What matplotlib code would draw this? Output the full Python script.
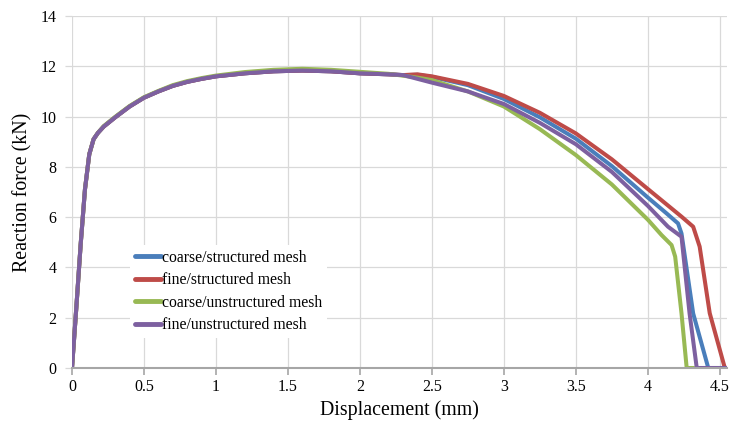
import matplotlib
matplotlib.use("Agg")
import matplotlib.pyplot as plt
import numpy as np

plt.rcParams['font.family'] = ['Liberation Serif', 'DejaVu Serif']

# Common loading branch (all meshes nearly identical)
x_common = [0, 0.03, 0.06, 0.09, 0.12, 0.15, 0.18, 0.22, 0.3, 0.4, 0.5, 0.6, 0.7, 0.8, 0.9, 1.0,
            1.2, 1.4, 1.6, 1.8, 2.0, 2.2, 2.3]
y_common = [0, 2.4, 4.9, 7.1, 8.5, 9.1, 9.35, 9.6, 9.97, 10.4, 10.75, 11.0, 11.22, 11.38, 11.5, 11.6,
            11.72, 11.8, 11.83, 11.8, 11.72, 11.68, 11.65]

# coarse/structured mesh
x_cs = x_common + [2.4, 2.5, 2.75, 3.0, 3.25, 3.5, 3.75, 4.0, 4.13, 4.21, 4.234, 4.315, 4.42, 4.55]
y_cs = y_common + [11.66, 11.58, 11.25, 10.7, 9.97, 9.12, 8.03, 6.78, 6.15, 5.75, 5.35, 2.17, 0.0, 0.0]

# fine/structured mesh
x_fs = x_common + [2.4, 2.5, 2.75, 3.0, 3.25, 3.5, 3.75, 4.0, 4.234, 4.315, 4.36, 4.43, 4.535, 4.55]
y_fs = y_common + [11.68, 11.6, 11.3, 10.82, 10.15, 9.33, 8.3, 7.12, 6.02, 5.62, 4.83, 2.18, 0.0, 0.0]

# coarse/unstructured mesh
x_cu = [0, 0.03, 0.06, 0.09, 0.12, 0.15, 0.18, 0.22, 0.3, 0.4, 0.5, 0.6, 0.7, 0.8, 0.9, 1.0,
        1.2, 1.4, 1.6, 1.8, 2.0, 2.2, 2.4, 2.5, 2.75, 3.0, 3.25, 3.5, 3.75, 4.0,
        4.095, 4.165, 4.19, 4.234, 4.27, 4.32]
y_cu = [0, 2.4, 4.9, 7.1, 8.5, 9.1, 9.35, 9.62, 9.99, 10.42, 10.77, 11.02, 11.25, 11.41, 11.53, 11.63,
        11.77, 11.86, 11.9, 11.86, 11.78, 11.7, 11.55, 11.45, 11.0, 10.4, 9.5, 8.47, 7.3, 5.9,
        5.29, 4.89, 4.43, 2.17, 0.0, 0.0]

# fine/unstructured mesh
x_fu = x_common + [2.4, 2.5, 2.75, 3.0, 3.25, 3.5, 3.75, 4.0, 4.14, 4.234, 4.29, 4.34, 4.55]
y_fu = y_common + [11.5, 11.35, 11.0, 10.5, 9.75, 8.9, 7.8, 6.45, 5.62, 5.22, 2.17, 0.0, 0.0]

labels = ["coarse/structured mesh", "fine/structured mesh",
          "coarse/unstructured mesh", "fine/unstructured mesh"]
colors = ["#4A7EBB", "#BE4B48", "#98B954", "#7D60A0"]
series = [(x_cs, y_cs), (x_fs, y_fs), (x_cu, y_cu), (x_fu, y_fu)]

fig = plt.figure(figsize=(7.29, 4.25), dpi=100)
ax = fig.add_axes([72/729, 1-368/425, (727-72)/729, (368-16)/425])

for (xs, ys), c, lab in zip(series, colors, labels):
    ax.plot(xs, ys, color=c, lw=2.9, label=lab, solid_capstyle='round', solid_joinstyle='round')

ax.set_xlim(0, 4.55)
ax.set_ylim(0, 14)
ax.set_xticks(np.arange(0, 4.51, 0.5))
ax.set_xticklabels(["0", "0.5", "1", "1.5", "2", "2.5", "3", "3.5", "4", "4.5"])
ax.set_yticks(np.arange(0, 14.1, 2))
ax.grid(True, color="#D9D9D9", lw=0.9)
ax.set_axisbelow(True)
for s in ["top", "right", "left"]:
    ax.spines[s].set_visible(False)
ax.spines["bottom"].set_color("#A6A6A6")
ax.spines["bottom"].set_linewidth(1.5)
ax.tick_params(axis="x", colors="#A6A6A6", length=5, width=1.2, labelcolor="black", labelsize=11.5, pad=3)
ax.tick_params(axis="y", colors="#D9D9D9", length=5, width=0.9, labelcolor="black", labelsize=11.5, pad=6)

ax.set_xlabel("Displacement (mm)", fontsize=14.3, labelpad=4)
ax.set_ylabel("Reaction force (kN)", fontsize=14.3, labelpad=6)

leg = ax.legend(loc="upper left", bbox_to_anchor=(130/729, 1-245/425), bbox_transform=fig.transFigure,
                frameon=True, fontsize=11.3, handlelength=1.7, handletextpad=0.05,
                labelspacing=0.42, borderpad=0.3, borderaxespad=0)
leg.get_frame().set_edgecolor("none")
leg.get_frame().set_facecolor("white")
leg.get_frame().set_alpha(1)
for l in leg.get_lines():
    l.set_linewidth(3.5)

fig.savefig("out.png", dpi=100)
